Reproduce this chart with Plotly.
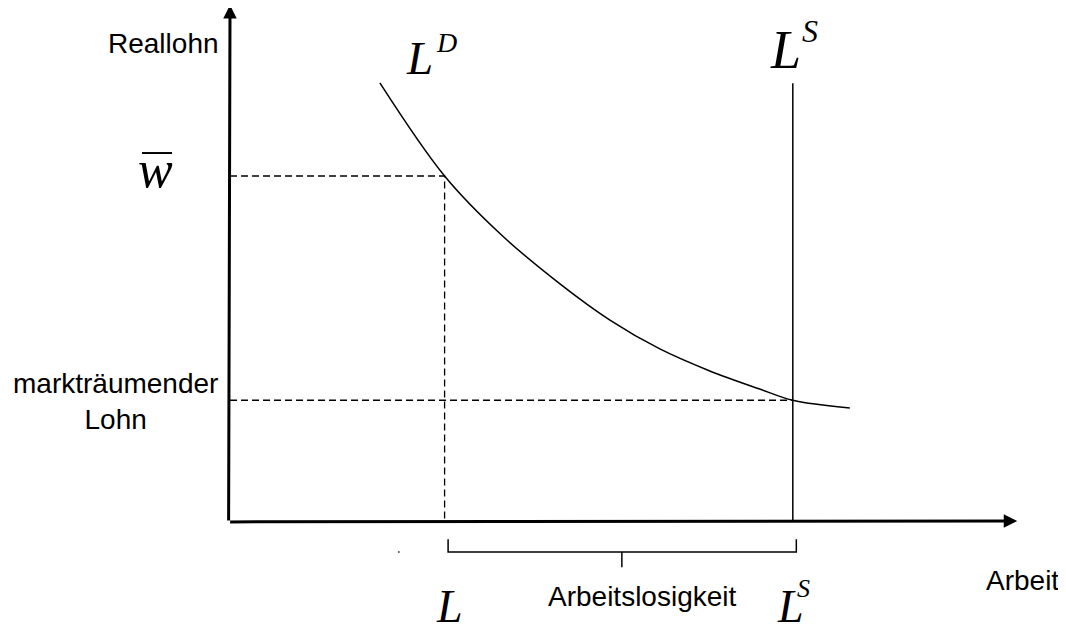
import plotly.graph_objects as go

# Werte des Diagramms (Arbeitsmarkt mit Mindestlohn)
L_val = 3.05        # Beschaeftigung beim Lohn w_bar
LS_val = 8.0        # Arbeitsangebot
w_bar = 8.0         # Lohn oberhalb des Gleichgewichts
w_star = 2.8        # markträumender Lohn

# Arbeitsnachfragekurve L^D
ld_x = [2.13, 3.05, 3.84, 4.69, 5.40, 6.11, 6.82, 7.53, 8.0, 8.81]
ld_y = [10.16, 8.0, 6.66, 5.50, 4.66, 3.99, 3.48, 3.06, 2.8, 2.62]

# Arbeitsangebot L^S (vertikal)
ls_top = 10.15

# Klammer "Arbeitslosigkeit"
bracket_x = [3.10, 3.10, 8.05, 8.05]
bracket_y = [-0.42, -0.72, -0.72, -0.42]
tick_x = [5.57, 5.57]
tick_y = [-0.72, -1.07]

# Achsenenden
x_end = 11.19
y_end = 11.965

sans = "Liberation Sans, Arial, sans-serif"
serif = "Liberation Serif, Times New Roman, serif"
dash = "7px,4px"

fig = go.Figure()

# L^D
fig.add_trace(go.Scatter(x=ld_x, y=ld_y, mode='lines',
                         line=dict(color='black', width=1.5, shape='spline', smoothing=1)))
# L^S
fig.add_trace(go.Scatter(x=[LS_val, LS_val], y=[0, ls_top], mode='lines',
                         line=dict(color='black', width=1.5)))
# gestrichelte Linien
fig.add_trace(go.Scatter(x=[0, L_val, L_val], y=[w_bar, w_bar, 0], mode='lines',
                         line=dict(color='black', width=1.3, dash=dash)))
fig.add_trace(go.Scatter(x=[0, LS_val], y=[w_star, w_star], mode='lines',
                         line=dict(color='black', width=1.3, dash=dash)))
# Klammer
fig.add_trace(go.Scatter(x=bracket_x, y=bracket_y, mode='lines',
                         line=dict(color='black', width=1.5)))
fig.add_trace(go.Scatter(x=tick_x, y=tick_y, mode='lines',
                         line=dict(color='black', width=1.5)))
# kleiner Punkt unter der Achse
fig.add_trace(go.Scatter(x=[2.40], y=[-0.72], mode='markers',
                         marker=dict(color='#555555', size=2)))

# Achsen mit Pfeilen
for hx, hy in [(x_end, 0), (0, y_end)]:
    fig.add_annotation(x=hx, y=hy, ax=-0.02, ay=-0.02, xref='x', yref='y', axref='x', ayref='y',
                       text='', showarrow=True, arrowhead=2, arrowsize=0.9, arrowwidth=3,
                       arrowcolor='black', standoff=0)

def label(x, y, text, font, size, anchor='center'):
    fig.add_annotation(x=x, y=y, text=text, showarrow=False, xanchor=anchor, yanchor='middle',
                       font=dict(family=font, size=size, color='black'))

label(-0.952, 11.07, 'Reallohn', sans, 28)
label(-1.635, 2.76, 'markträumender<br>Lohn', sans, 28)
label(11.265, -1.368, 'Arbeit', sans, 28)
label(5.864, -1.751, 'Arbeitslosigkeit', sans, 28)

label(2.687, 10.748, '<i>L</i>', serif, 47)
label(3.077, 11.096, '<i>D</i>', serif, 28)
label(7.903, 10.922, '<i>L</i>', serif, 54)
label(8.244, 11.362, '<i>S</i>', serif, 32)
label(L_val + 0.063, -1.98, '<i>L</i>', serif, 46)
label(LS_val - 0.033, -1.98, '<i>L</i>', serif, 46)
label(8.152, -1.565, '<i>S</i>', serif, 26)
label(-1.066, 8.151, '<i>w</i>', serif, 52)
# Querstrich ueber w
fig.add_shape(type='line', x0=-1.251, x1=-0.824, y0=8.533, y1=8.533,
              line=dict(color='black', width=2))

# Bereiche so gewaehlt, dass der Seitenrand (8px) ausgeglichen wird
fig.update_xaxes(visible=False, range=[-3.156, 11.997], fixedrange=True)
fig.update_yaxes(visible=False, range=[-2.643, 11.896], fixedrange=True)
fig.update_layout(width=1066, height=627, autosize=False, showlegend=False,
                  margin=dict(l=0, r=0, t=0, b=0),
                  plot_bgcolor='white', paper_bgcolor='white')

fig.write_html("out.html")
